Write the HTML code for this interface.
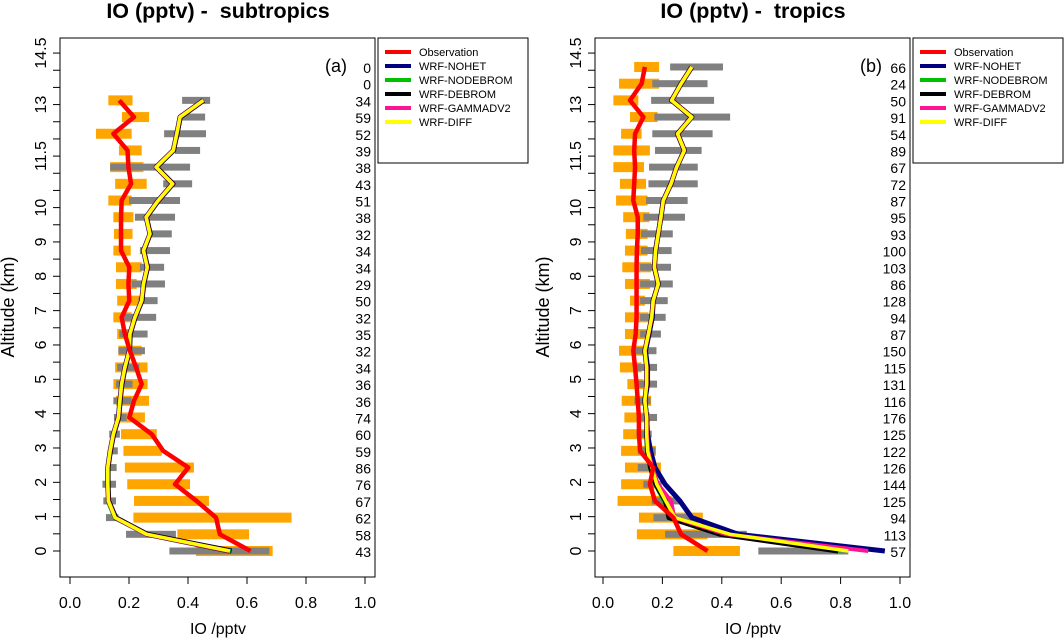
<!DOCTYPE html>
<html><head><meta charset="utf-8">
<style>
body{margin:0;background:#fff;}
svg{display:block;font-family:"Liberation Sans",sans-serif;}
</style></head>
<body>
<svg id="chart" width="1064" height="639" viewBox="0 0 1064 639" xmlns="http://www.w3.org/2000/svg"></svg>
<script>
// ---- data: panel (a) subtropics, levels index 0..29 (bottom to top) ----
const countsA = [43,58,62,67,76,86,59,60,74,36,36,34,32,35,32,50,29,34,34,32,38,51,43,38,39,52,59,34,0,0];
const obsA = [.612,.508,.495,.429,.356,.401,.316,.277,.201,.217,.243,.224,.203,.186,.175,.201,.198,.201,.173,.173,.173,.175,.207,.198,.195,.147,.217,.167];
const obsLoA = [.427,.364,.215,.217,.194,.186,.181,.173,.164,.156,.147,.153,.164,.160,.147,.160,.156,.156,.147,.149,.147,.130,.153,.136,.166,.088,.176,.130];
const obsHiA = [.687,.607,.751,.471,.407,.420,.311,.294,.254,.268,.263,.263,.243,.203,.209,.237,.226,.243,.206,.212,.215,.209,.260,.249,.243,.209,.268,.212];
const modLoA = [.337,.190,.122,.113,.110,.121,.130,.133,.149,.147,.156,.160,.164,.167,.175,.232,.209,.237,.237,.271,.220,.200,.316,.136,.356,.319,.373,.380];
const modHiA = [.676,.359,.164,.156,.156,.158,.162,.169,.192,.209,.212,.235,.254,.263,.292,.297,.322,.319,.339,.345,.356,.373,.414,.407,.441,.461,.458,.475];
const nohetA = [.548,.262,.153,.130,.128,.128,.136,.147,.164,.169,.175,.186,.201,.203,.220,.243,.249,.262,.249,.271,.258,.299,.348,.292,.350,.362,.373,.452];
const nodebromA = [.545,.259,.151,.128,.126,.127,.135,.146,.164,.169,.175,.186,.201,.203,.220,.243,.249,.262,.249,.271,.258,.299,.348,.292,.350,.362,.373,.452];
const debromA = [.540,.262,.155,.131,.129,.129,.137,.148,.165,.170,.176,.187,.202,.204,.221,.244,.250,.263,.250,.272,.259,.300,.349,.293,.351,.363,.374,.453];
const gammaA = [.538,.259,.153,.130,.128,.128,.136,.147,.164,.169,.175,.186,.201,.203,.220,.243,.249,.262,.249,.271,.258,.299,.348,.292,.350,.362,.373,.452];
const diffA = [.542,.260,.153,.130,.128,.128,.136,.147,.164,.169,.175,.186,.201,.203,.220,.243,.249,.262,.249,.271,.258,.299,.348,.292,.350,.362,.373,.452];
// ---- data: panel (b) tropics ----
const countsB = [57,113,94,125,144,126,122,125,176,116,131,115,150,87,94,128,86,103,100,93,95,87,72,67,89,54,91,50,24,66];
const obsB = [.352,.263,.237,.175,.158,.169,.125,.121,.121,.117,.113,.108,.102,.110,.113,.113,.113,.113,.114,.117,.117,.102,.105,.108,.105,.108,.136,.091,.130,.141];
const obsLoB = [.237,.114,.121,.049,.061,.074,.061,.068,.072,.063,.082,.057,.054,.074,.074,.091,.074,.065,.074,.077,.068,.044,.057,.035,.035,.061,.091,.035,.054,.105];
const obsHiB = [.461,.352,.336,.231,.173,.195,.178,.153,.158,.162,.136,.130,.141,.147,.153,.141,.158,.162,.150,.150,.156,.150,.145,.138,.158,.130,.184,.119,.189,.189];
const modLoB = [.523,.209,.170,.164,.136,.117,.117,.113,.113,.106,.113,.108,.108,.125,.125,.125,.125,.125,.128,.128,.136,.145,.153,.155,.175,.166,.173,.162,.166,.226];
const modHiB = [.826,.484,.298,.259,.198,.181,.177,.164,.182,.160,.182,.182,.180,.195,.211,.218,.235,.229,.231,.235,.276,.285,.319,.319,.332,.369,.428,.374,.352,.404];
const nohetB = [.949,.456,.299,.259,.209,.175,.160,.150,.147,.141,.150,.150,.143,.155,.166,.169,.186,.173,.177,.186,.195,.203,.229,.248,.274,.251,.299,.231,.263,.299];
const nodebromB = [.800,.400,.230,.205,.175,.158,.148,.147,.146,.141,.147,.147,.141,.153,.164,.169,.186,.173,.177,.186,.195,.203,.229,.248,.274,.251,.299,.231,.263,.299];
const debromB = [.792,.394,.222,.210,.178,.160,.150,.147,.147,.141,.147,.147,.141,.153,.164,.169,.186,.173,.177,.186,.195,.203,.229,.248,.274,.251,.299,.231,.263,.299];
const gammaB = [.893,.415,.240,.229,.185,.166,.152,.148,.147,.141,.147,.147,.141,.153,.164,.169,.186,.173,.177,.186,.195,.203,.229,.248,.274,.251,.299,.231,.263,.299];
const diffB = [.826,.428,.242,.211,.181,.164,.150,.147,.147,.141,.147,.147,.141,.153,.164,.169,.186,.173,.177,.186,.195,.203,.229,.248,.274,.251,.299,.231,.263,.299];
// ---- axis ticks ----
const xTicks = [0,0.2,0.4,0.6,0.8,1.0];
const xTickLabels = ["0.0","0.2","0.4","0.6","0.8","1.0"];
const yTickLabels = ["0","1","2","3","4","5","6","7","8","9","10","11.5","13","14.5"];
const legendLabels = ["Observation","WRF-NOHET","WRF-NODEBROM","WRF-DEBROM","WRF-GAMMADV2","WRF-DIFF"];
const legendColors = ["#ff0000","#000080","#00c000","#000000","#ff1493","#ffff00"];

const NS="http://www.w3.org/2000/svg";
const svg=document.getElementById('chart');
function mk(tag,attrs,parent){const e=document.createElementNS(NS,tag);for(const k in attrs)e.setAttribute(k,attrs[k]);(parent||svg).appendChild(e);return e;}

function panel(cfg){
  const L=cfg.left,R=L+315,T=38,B=577;
  const xs=v=>cfg.x0+v*cfg.xw;
  const ys=i=>551-i*16.69;       // level index -> px
  const ya=a=>551-a*34.34;        // altitude km -> px
  const g=mk('g',{});
  
  
  const t=mk('text',{x:L+158,y:18,'text-anchor':'middle','font-size':21.5,'font-weight':'bold','style':'white-space:pre'},g);
  t.textContent=cfg.title;
  
  
  const fr=mk('rect',{x:L,y:T,width:315,height:B-T,fill:'none',stroke:'#000','stroke-width':1},g);
  
  
  xTicks.forEach((v,k)=>{
    mk('line',{x1:xs(v),x2:xs(v),y1:B,y2:B+7,stroke:'#000'},g);
    const tl=mk('text',{x:xs(v),y:608,'text-anchor':'middle','font-size':16},g);
    tl.textContent=xTickLabels[k];
    
    
  });
  for(let a=0;a<=14.5;a+=0.5) mk('line',{x1:L-7,x2:L,y1:ya(a),y2:ya(a),stroke:'#000'},g);
  yTickLabels.forEach(s=>{
    const a=parseFloat(s);
    const tl=mk('text',{x:0,y:0,'text-anchor':'middle','font-size':16,transform:`translate(${L-14},${ya(a)}) rotate(-90)`},g);
    tl.textContent=s;
    
    
  });
  const xl=mk('text',{x:L+158,y:634,'text-anchor':'middle','font-size':16},g);
  xl.textContent='IO /pptv';
  
  
  const yl=mk('text',{x:0,y:0,'text-anchor':'middle','font-size':18,transform:`translate(${L-46},${307}) rotate(-90)`},g);
  yl.textContent='Altitude (km)';
  
  
  const pl=mk('text',{x:L+265,y:72,'font-size':18},g);
  pl.textContent=cfg.letter;
  
  
  cfg.counts.forEach((c,i)=>{
    const ct=mk('text',{x:R-4,y:ys(i)+6,'text-anchor':'end','font-size':14},g);
    ct.textContent=c;
    
    
  });
  cfg.obsLo.forEach((lo,i)=>{
    const b=mk('rect',{x:xs(lo),y:ys(i)-5,width:xs(cfg.obsHi[i])-xs(lo),height:10,fill:'#ffa500'},g);
    
    
  });
  cfg.modLo.forEach((lo,i)=>{
    const b=mk('rect',{x:xs(lo),y:ys(i)-3.5,width:xs(cfg.modHi[i])-xs(lo),height:7,fill:'#808080'},g);
    
    
  });
  const series=[[cfg.nohet,'#000080',5,'wrf-nohet-line'],[cfg.nodebrom,'#00c000',4,'wrf-nodebrom-line'],[cfg.debrom,'#000000',5,'wrf-debrom-line'],[cfg.gamma,'#ff1493',4,'wrf-gammadv2-line'],[cfg.diff,'#ffff00',3.5,'wrf-diff-line'],[cfg.obs,'#ff0000',4.5,'observation-line']];
  series.forEach(([d,c,w,n])=>{
    const p=mk('polyline',{points:d.map((v,i)=>xs(v)+','+ys(i)).join(' '),fill:'none',stroke:c,'stroke-width':w,'stroke-linejoin':'round'},g);
    
    
  });
  const lg=mk('g',{},g);
  
  
  mk('rect',{x:R+3,y:38,width:150,height:125,fill:'#fff',stroke:'#000'},lg);
  legendLabels.forEach((s,k)=>{
    const y=52+k*14;
    mk('line',{x1:R+10,x2:R+36,y1:y,y2:y,stroke:legendColors[k],'stroke-width':4},lg);
    const lt=mk('text',{x:R+44,y:y+4,'font-size':11},lg);
    lt.textContent=s;
    
    
  });
}
panel({name:'panel-subtropics',title:'IO (pptv) -  subtropics',letter:'(a)',left:60,x0:70,xw:295,counts:countsA,obs:obsA,obsLo:obsLoA,obsHi:obsHiA,modLo:modLoA,modHi:modHiA,nohet:nohetA,nodebrom:nodebromA,debrom:debromA,gamma:gammaA,diff:diffA});
panel({name:'panel-tropics',title:'IO (pptv) -  tropics',letter:'(b)',left:595,x0:603,xw:297,counts:countsB,obs:obsB,obsLo:obsLoB,obsHi:obsHiB,modLo:modLoB,modHi:modHiB,nohet:nohetB,nodebrom:nodebromB,debrom:debromB,gamma:gammaB,diff:diffB});
</script>
</body></html>
